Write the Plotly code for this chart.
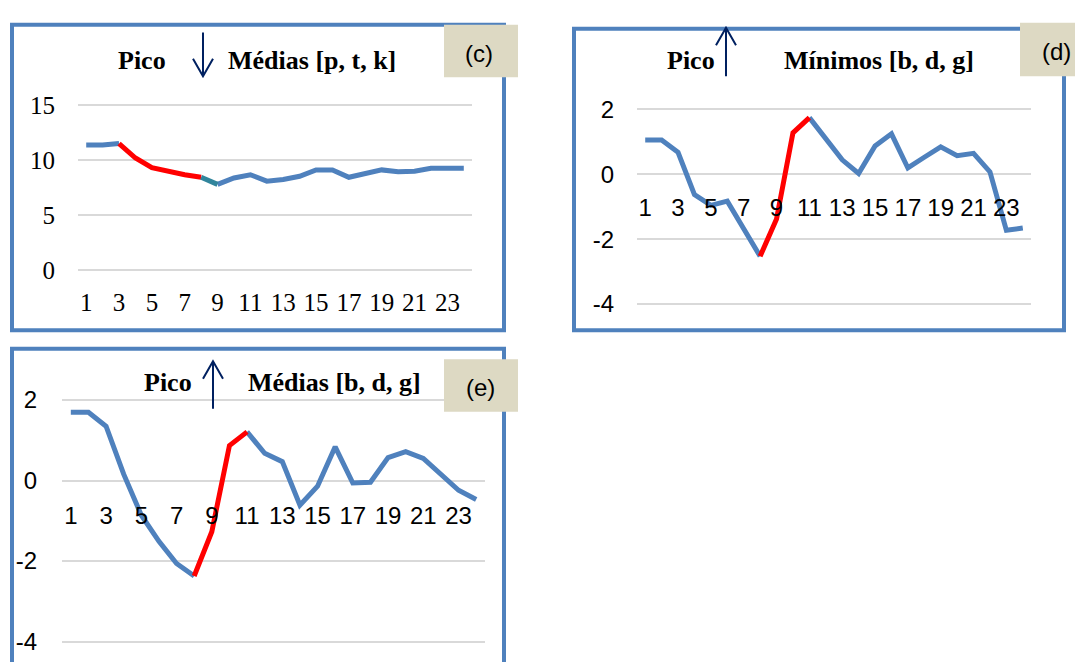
import plotly.graph_objects as go

W, H = 1083, 662
OFF = 8  # page body margin in the browser

# ---------------- data ----------------
x_idx = list(range(1, 25))
x_tick_vals = list(range(1, 24, 2))
x_tick_text = [str(v) for v in x_tick_vals]

c_values = [11.38, 11.38, 11.52, 10.2, 9.33, 8.95, 8.68, 8.45, 7.8, 8.39, 8.68, 8.1,
            8.25, 8.54, 9.12, 9.12, 8.45, 8.74, 9.12, 8.95, 9.0, 9.27, 9.27, 9.27]
d_values = [1.05, 1.05, 0.67, -0.63, -0.96, -0.83, -1.68, -2.53, -1.38, 1.27, 1.74, 1.07,
            0.44, 0.02, 0.87, 1.24, 0.19, 0.52, 0.84, 0.57, 0.64, 0.07, -1.73, -1.66]
e_values = [1.70, 1.70, 1.35, 0.16, -0.86, -1.51, -2.06, -2.37, -1.27, 0.87, 1.21, 0.68,
            0.47, -0.61, -0.14, 0.84, -0.06, -0.04, 0.57, 0.72, 0.55, 0.14, -0.24, -0.47]

c_yticks = [0, 5, 10, 15]
c_ytick_text = ["0", "5", "10", "15"]
de_yticks = [-4, -2, 0, 2]
de_ytick_text = ["-4", "-2", "0", "2"]

# segments: (first point, last point, colour key)
c_segments = [(1, 3, "blue"), (9, 24, "blue"), (3, 8, "red"), (8, 9, "teal")]
d_segments = [(1, 8, "blue"), (11, 24, "blue"), (8, 11, "red")]
e_segments = [(1, 8, "blue"), (11, 24, "blue"), (8, 11, "red")]

# ---------------- style ----------------
COLORS = {"blue": "#4F81BD", "red": "#FF0000", "teal": "#31859C"}
FRAME = "#4F81BD"
GRID = "#D9D9D9"
BOX = "#DDD9C3"
NAVY = "#002060"
SERIF = "Liberation Serif"
SANS = "Liberation Sans"


def fx(px):
    return (px - OFF) / W


def fy(py):
    return 1 - (py - OFF) / H


panels = [
    dict(values=c_values, segments=c_segments, yticks=c_yticks, ytext=c_ytick_text,
         grid_x=(78, 472), vmap=((0, 268), (15, 98)), yrange=(-0.3, 15.3),
         tickfont=dict(family=SERIF, size=25, color="black"),
         xstand=15, ystand=22),
    dict(values=d_values, segments=d_segments, yticks=de_yticks, ytext=de_ytick_text,
         grid_x=(637, 1031), vmap=((0, 169), (2, 102)), yrange=(-4.1, 2.1),
         tickfont=dict(family=SANS, size=24, color="black"),
         xstand=17, ystand=22),
    dict(values=e_values, segments=e_segments, yticks=de_yticks, ytext=de_ytick_text,
         grid_x=(62, 485), vmap=((0, 485), (2, 402)), yrange=(-4.1, 2.1),
         tickfont=dict(family=SANS, size=24, color="black"),
         xstand=18, ystand=24),
]

fig = go.Figure()
layout = dict(
    width=W, height=H, margin=dict(l=0, r=0, t=0, b=0),
    paper_bgcolor="white", plot_bgcolor="rgba(0,0,0,0)",
    showlegend=False,
)

for n, p in enumerate(panels, start=1):
    (v0, p0), (v1, p1) = p["vmap"]
    scale = (p1 - p0) / (v1 - v0)
    to_px = lambda v: p0 + (v - v0) * scale
    ybot = to_px(p["yrange"][0])
    ytop = to_px(p["yrange"][1])
    zero_px = to_px(0)
    xs = "" if n == 1 else str(n)
    layout["xaxis" + xs] = dict(
        domain=[fx(p["grid_x"][0]), fx(p["grid_x"][1])], range=[0.5, 24.5],
        tickvals=x_tick_vals, ticktext=x_tick_text, showgrid=False, zeroline=False,
        showline=False, ticks="", anchor="free", position=fy(zero_px),
        tickfont=p["tickfont"], ticklabelstandoff=p["xstand"], fixedrange=True,
    )
    layout["yaxis" + xs] = dict(
        domain=[fy(ybot), fy(ytop)], range=list(p["yrange"]), tickvals=p["yticks"],
        ticktext=p["ytext"],
        showgrid=True, gridcolor=GRID, gridwidth=2, zeroline=False, showline=False,
        ticks="", anchor="x" + xs, tickfont=p["tickfont"],
        ticklabelstandoff=p["ystand"], fixedrange=True,
    )
    vals = p["values"]
    for a, b, ck in p["segments"]:
        fig.add_trace(go.Scatter(
            x=x_idx[a - 1:b], y=vals[a - 1:b], mode="lines",
            line=dict(color=COLORS[ck], width=5),
            xaxis="x" + xs, yaxis="y" + xs, hoverinfo="skip",
        ))

shapes = []
annotations = []


def rect(x0, y0, x1, y1, **kw):
    shapes.append(dict(type="rect", xref="paper", yref="paper",
                       x0=fx(x0), x1=fx(x1), y0=fy(y1), y1=fy(y0), **kw))


# frames
rect(12, 15, 504, 330, line=dict(color=FRAME, width=4), fillcolor="rgba(0,0,0,0)")
rect(574, 19, 1064, 330, line=dict(color=FRAME, width=4), fillcolor="rgba(0,0,0,0)")
rect(12, 349, 504, 700, line=dict(color=FRAME, width=4), fillcolor="rgba(0,0,0,0)")

# label boxes
rect(444, 15, 518, 69, line=dict(width=0), fillcolor=BOX)
rect(1020, 13, 1090, 68, line=dict(width=0), fillcolor=BOX)
rect(444, 360, 518, 414, line=dict(width=0), fillcolor=BOX)


def text(s, cx, cy, family, size, bold=False):
    annotations.append(dict(
        text=("<b>%s</b>" % s) if bold else s, xref="paper", yref="paper",
        x=fx(cx), y=fy(cy), xanchor="center", yanchor="middle", showarrow=False,
        font=dict(family=family, size=size, color="black"),
    ))


text("(c)", 479, 45, SANS, 24)
text("(d)", 1056, 43, SANS, 24)
text("(e)", 480, 389, SANS, 24)

text("Pico", 141.5, 52, SERIF, 26, True)
text("Médias [p, t, k]", 311.5, 52, SERIF, 26, True)
text("Pico", 690.5, 52, SERIF, 26, True)
text("Mínimos [b, d, g]", 879, 52, SERIF, 26, True)
text("Pico", 168, 384, SERIF, 26, True)
text("Médias [b, d, g]", 334, 384, SERIF, 26, True)


def arrow(x, y_from, y_tip):
    d = 1 if y_tip > y_from else -1
    path = "M %f,%f L %f,%f M %f,%f L %f,%f L %f,%f" % (
        fx(x), fy(y_from), fx(x), fy(y_tip),
        fx(x - 10), fy(y_tip - d * 18), fx(x), fy(y_tip), fx(x + 10), fy(y_tip - d * 18))
    shapes.append(dict(type="path", xref="paper", yref="paper", path=path,
                       line=dict(color=NAVY, width=2)))


arrow(203, 23, 68)
arrow(726, 68, 18)
arrow(213, 411, 362)

layout["shapes"] = shapes
layout["annotations"] = annotations
fig.update_layout(**layout)
fig.write_html("out.html")
